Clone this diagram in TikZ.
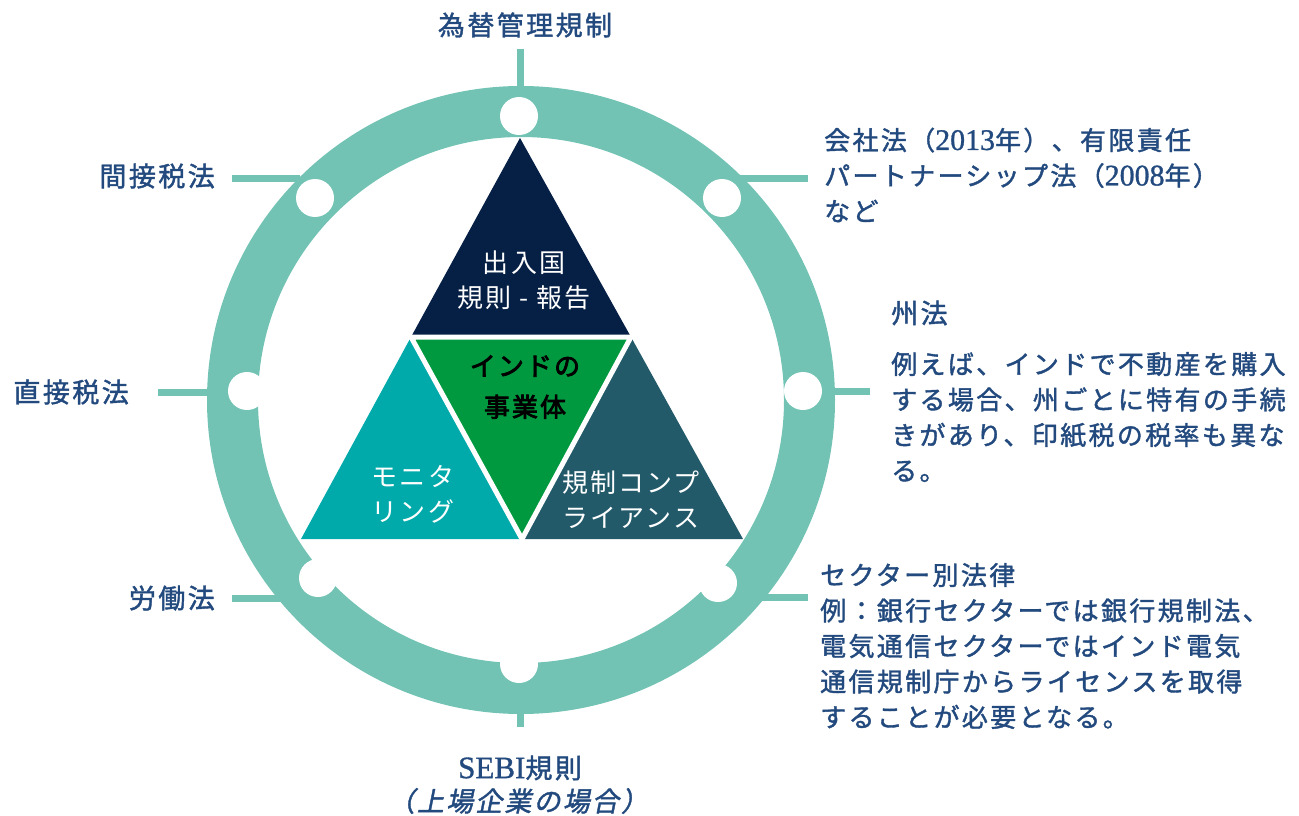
\documentclass[tikz,border=0pt]{standalone}
\usepackage{fontspec}
\setmainfont{Noto Sans CJK JP}
\newfontfamily\jp[LetterSpace=8]{Noto Sans CJK JP}
\newfontfamily\jpb[LetterSpace=9,FakeBold=1.5]{Noto Sans CJK JP}
\newfontfamily\jpbb[LetterSpace=8,FakeBold=3]{Noto Sans CJK JP}
\newfontfamily\jpsl[FakeSlant=0.2,LetterSpace=8,FakeBold=1.5]{Noto Sans CJK JP}
\newfontfamily\lat[Scale=1.15,FakeBold=1]{Liberation Serif}
\definecolor{ringc}{HTML}{72C3B4}
\definecolor{lblc}{HTML}{234A7E}
\definecolor{navyc}{HTML}{061F44}
\definecolor{tealc}{HTML}{00AAAA}
\definecolor{greenc}{HTML}{00993F}
\definecolor{slatec}{HTML}{225A6A}
\tikzset{
  tick/.style={draw=ringc, line width=7pt},
  hole/.style={circle, fill=white, minimum size=38pt, inner sep=0pt},
  lbl/.style={text=lblc, inner sep=0pt, font={\jpb\fontsize{27}{32}\selectfont}},
  para/.style={text=lblc, inner sep=0pt, align=left, font={\jpb\fontsize{26}{35.5}\selectfont}},
  tritxt/.style={text=white, inner sep=0pt, align=center, font={\jp\fontsize{26}{35}\selectfont}},
}
\begin{document}
\begin{tikzpicture}[x=1pt,y=-1pt]
\useasboundingbox (0,0) rectangle (1299,816);
% ring center
\coordinate (c) at (521,400);
% tick end coordinates
\coordinate (tTop) at (520,49);
\coordinate (tTopR) at (520,100);
\coordinate (tBot) at (520,727);
\coordinate (tBotR) at (520,700);
\coordinate (tUL) at (232,178);
\coordinate (tULR) at (300,178);
\coordinate (tUR) at (808,178);
\coordinate (tURR) at (740,178);
\coordinate (tL) at (158,392);
\coordinate (tLR) at (230,392);
\coordinate (tR) at (870,391);
\coordinate (tRR) at (810,391);
\coordinate (tLL) at (232,598);
\coordinate (tLLR) at (300,598);
\coordinate (tLR2) at (808,597);
\coordinate (tLRR) at (740,597);
\draw[tick] (tTop) -- (tTopR);
\draw[tick] (tBot) -- (tBotR);
\draw[tick] (tUL) -- (tULR);
\draw[tick] (tUR) -- (tURR);
\draw[tick] (tL) -- (tLR);
\draw[tick] (tR) -- (tRR);
\draw[tick] (tLL) -- (tLLR);
\draw[tick] (tLR2) -- (tLRR);
% ring
\draw[draw=ringc, line width=51pt] (c) circle[radius=288.5];
% holes
\node[hole] (h1) at (519,116) {};
\node[hole] (h2) at (722,198) {};
\node[hole] (h3) at (803,391) {};
\node[hole] (h4) at (718,583) {};
\node[hole] (h5) at (519,664) {};
\node[hole] (h6) at (318,578) {};
\node[hole] (h7) at (247,391) {};
\node[hole] (h8) at (315,198) {};
% triangles
\coordinate (A) at (520,138);
\coordinate (BL) at (301,539);
\coordinate (BR) at (743,539);
\coordinate (ML) at (411,337);
\coordinate (MR) at (631,337);
\coordinate (MB) at (522,539);
\fill[navyc] (A) -- (MR) -- (ML) -- cycle;
\fill[tealc] (ML) -- (MB) -- (BL) -- cycle;
\fill[slatec] (MR) -- (BR) -- (MB) -- cycle;
\fill[greenc] (ML) -- (MR) -- (MB) -- cycle;
\draw[white, line width=5pt] (ML) -- (MR) -- (MB) -- cycle;
% triangle texts
\node[tritxt] (t1) at (524,280) {出入国\\規則 - 報告};
\node[tritxt, text=black, font={\jpbb\fontsize{26}{41}\selectfont}] (t2) at (525,387) {インドの\\事業体};
\node[tritxt] (t3) at (413,494) {モニタ\\リング};
\node[tritxt] (t4) at (631,500) {規制コンプ\\ライアンス};
% labels
\node[lbl] (kawase) at (525,25) {為替管理規制};
\node[lbl, anchor=east] (kansetsu) at (215,176) {間接税法};
\node[lbl, anchor=east] (chokusetsu) at (129,392) {直接税法};
\node[lbl, anchor=east] (roudou) at (215,598) {労働法};
\node[para, anchor=west] (kaisha) at (824,175) {会社法（{\lat 2013}年）、有限責任\\パートナーシップ法（{\lat 2008}年）\\など};
\node[lbl, anchor=west] (shuhou) at (891,313) {州法};
\node[para, anchor=west] (shupara) at (891,417) {例えば、インドで不動産を購入\\する場合、州ごとに特有の手続\\きがあり、印紙税の税率も異な\\る。};
\node[para, anchor=west] (sector) at (820,646) {セクター別法律\\例：銀行セクターでは銀行規制法、\\電気通信セクターではインド電気\\通信規制庁からライセンスを取得\\することが必要となる。};
\node[lbl] (sebi) at (520,768) {{\lat SEBI}規則};
\node[lbl, font={\jpsl\fontsize{27}{32}\selectfont}] (jojo) at (518,801) {（上場企業の場合）};
\end{tikzpicture}
\end{document}
